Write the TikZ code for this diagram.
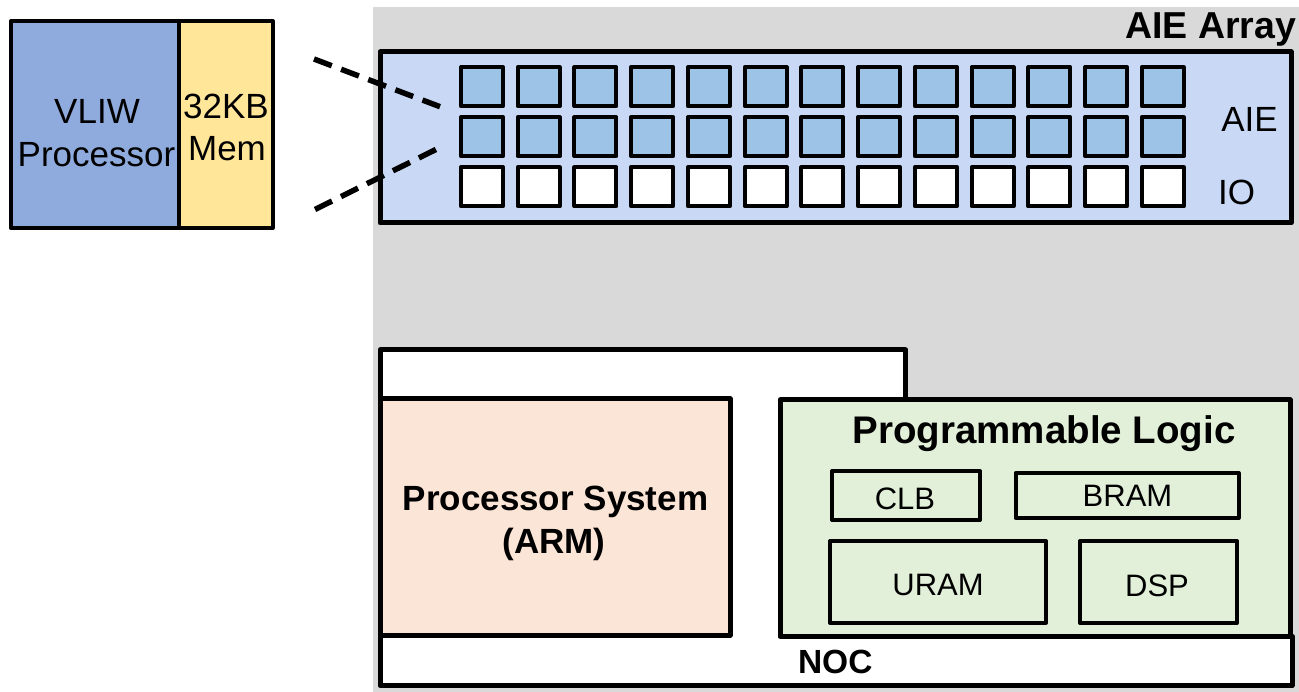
\documentclass[tikz,border=0pt]{standalone}
\usepackage{fontspec}
\setmainfont{Liberation Sans}
\definecolor{chipgray}{HTML}{D9D9D9}
\definecolor{vliwblue}{HTML}{8FAADC}
\definecolor{memyellow}{HTML}{FFE699}
\definecolor{arrayblue}{HTML}{C8D8F5}
\definecolor{tileblue}{HTML}{9DC3E6}
\definecolor{psorange}{HTML}{FBE5D6}
\definecolor{plgreen}{HTML}{E2F0D9}
\begin{document}
\begin{tikzpicture}[x=1pt,y=-1pt,
  every node/.style={inner sep=0pt,outer sep=0pt},
  blockbox/.style={draw=black,line width=5pt,line join=round},
  smallbox/.style={draw=black,line width=4pt,line join=round},
  tile/.style={smallbox,minimum width=42pt,minimum height=39pt},
  aietile/.style={tile,fill=tileblue},
  iotile/.style={tile,fill=white},
  lbl/.style={font=\fontsize{35}{42}\selectfont},
  plbl/.style={font=\fontsize{31}{37}\selectfont},
  blbl/.style={font=\bfseries\fontsize{35}{42}\selectfont},
  zoomline/.style={draw=black,line width=5.5pt,dash pattern=on 19pt off 10pt}
]
\useasboundingbox (0,0) rectangle (1299,692);

% chip background
\fill[chipgray] (373,7) rectangle (1299,692);

% single AI engine tile: VLIW core and its local memory
\node[smallbox,fill=vliwblue,minimum width=167.7pt,minimum height=207.3pt] (core) at (94.85,124.65) {};
\node[smallbox,fill=memyellow,minimum width=93.8pt,minimum height=207.3pt] (mem) at (225.6,124.65) {};
\node[lbl,anchor=base] (core-l1) at (97,124) {VLIW};
\node[lbl,anchor=base] (core-l2) at (96.5,167) {Processor};
\node[lbl,anchor=base] (mem-l1) at (226,119) {32KB};
\node[lbl,anchor=base] (mem-l2) at (227,161) {Mem};

% AIE array
\node[blockbox,fill=arrayblue,minimum width=911pt,minimum height=171pt] (array) at (835.5,137.5) {};
\node[font=\bfseries\fontsize{37.5}{45}\selectfont,anchor=base east] (array-title) at (1296,38.5) {AIE Array};
\foreach \i in {0,...,12}{
  \node[aietile] (t-1-\i) at (482+56.73*\i,86.7) {};
  \node[aietile] (t-2-\i) at (482+56.73*\i,136.7) {};
  \node[iotile]  (t-3-\i) at (482+56.73*\i,186.7) {};
}
\node[lbl,anchor=base] (aie-lbl) at (1249.5,132) {AIE};
\node[lbl,anchor=base] (io-lbl) at (1236.5,205) {IO};

% zoom lines from the tile to the array
\coordinate (zoom-top) at (314,59);
\coordinate (zoom-bot) at (315,209.5);
\coordinate (zoom-top-end) at (440,106.7);
\coordinate (zoom-bot-end) at (438.3,148.3);
\draw[zoomline] (zoom-top) -- (zoom-top-end);
\draw[zoomline] (zoom-bot) -- (zoom-bot-end);

% white frame holding the PS region and the NOC
\path[blockbox,fill=white] (380,350) -- (905.5,350) -- (905.5,636) -- (1292,636)
  -- (1292,685.5) -- (380,685.5) -- cycle;
\node[blbl,font=\bfseries\fontsize{33.5}{40}\selectfont,anchor=base west] (noc) at (798,673.3) {NOC};

% processor system
\node[blockbox,fill=psorange,minimum width=350pt,minimum height=236pt] (ps) at (555,517) {};
\node[blbl,anchor=base] (ps-l1) at (555.5,510) {Processor System};
\node[blbl,anchor=base] (ps-l2) at (554,553) {(ARM)};

% programmable logic
\node[blockbox,fill=plgreen,minimum width=510pt,minimum height=236.5pt] (pl) at (1035,518.25) {};
\node[blbl,font=\bfseries\fontsize{38.5}{46}\selectfont,anchor=base] (pl-title) at (1044,443) {Programmable Logic};
\node[smallbox,minimum width=148pt,minimum height=49pt] (clb) at (906,495.5) {};
\node[smallbox,minimum width=223pt,minimum height=45pt] (bram) at (1127,495.5) {};
\node[smallbox,minimum width=216pt,minimum height=81.5pt] (uram) at (938,582) {};
\node[smallbox,minimum width=157.3pt,minimum height=81.5pt] (dsp) at (1158.4,582) {};
\node[plbl,anchor=base] (clb-lbl) at (905,509.8) {CLB};
\node[plbl,anchor=base] (bram-lbl) at (1127.5,506.4) {BRAM};
\node[plbl,anchor=base] (uram-lbl) at (938,595.8) {URAM};
\node[plbl,anchor=base] (dsp-lbl) at (1157,596) {DSP};
\end{tikzpicture}
\end{document}
